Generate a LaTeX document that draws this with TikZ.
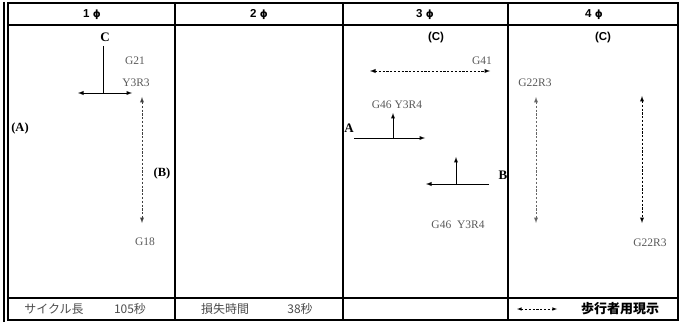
\documentclass[tikz,border=0pt]{standalone}
\usepackage{fontspec}
\setmainfont{Liberation Serif}
\newfontfamily\hdrfont{Liberation Sans}
\newfontfamily\phifont{DejaVu Sans}
\newfontfamily\jpfont{Noto Sans CJK JP}
\usetikzlibrary{calc, positioning}

\begin{document}
\begin{tikzpicture}[>=latex, x=1pt, y=-1pt,
    frame/.style={line width=2pt},
    grid/.style={line width=1.7pt},
    flow/.style={line width=0.9pt},
    ped/.style={line width=0.9pt, dash pattern=on 2.2pt off 1.6pt},
    hdr/.style={font=\hdrfont\bfseries\fontsize{11.5}{14}\selectfont},
    dirletter/.style={font=\bfseries\fontsize{13}{15}\selectfont, inner sep=0pt},
    paren/.style={font=\bfseries\fontsize{12.5}{14}\selectfont, inner sep=0pt},
    siglabel/.style={font=\fontsize{11.5}{13}\selectfont, text=black!65, inner sep=0pt},
    foot/.style={font=\jpfont\fontsize{12}{14}\selectfont, text=black!70, inner sep=0pt}]
    \useasboundingbox (0,0) rectangle (679,323);

    % 1. Khung bảng
    \draw[grid] (4,2) -- (4,322);
    \draw[frame] (8,3) rectangle (678,320);
    \draw[grid] (8,25) -- (678,25);
    \draw[grid] (8,298) -- (678,298);
    \foreach \xc in {175, 343, 508}
        \draw[grid] (\xc,3) -- (\xc,320);

    % 2. Tiêu đề các pha
    \node[hdr] (h1) at (92,15) {1 {\phifont\bfseries\fontsize{10}{12}\selectfont ϕ}};
    \node[hdr] (h2) at (259,15) {2 {\phifont\bfseries\fontsize{10}{12}\selectfont ϕ}};
    \node[hdr] (h3) at (425,15) {3 {\phifont\bfseries\fontsize{10}{12}\selectfont ϕ}};
    \node[hdr] (h4) at (594,15) {4 {\phifont\bfseries\fontsize{10}{12}\selectfont ϕ}};

    % 3. Pha 1
    \node[dirletter] (c1) at (105,37) {C};
    \draw[flow] (103,46) -- (103,93);
    \draw[flow, <->] (78,93) -- (132,93);
    \node[siglabel] (g21) at (135,61) {G21};
    \node[siglabel] (y3r3) at (136,83) {Y3R3};
    \draw[ped, <->, black!75] (142,97) -- (142,223);
    \node[paren] (a1) at (20,128) {(A)};
    \node[paren] (b1) at (162,173) {(B)};
    \node[siglabel] (g18) at (145,242) {G18};

    % 4. Pha 3
    \node[hdr] (c3) at (436,38) {(C)};
    \node[siglabel] (g41) at (482,61) {G41};
    \draw[ped, <->] (370,71) -- (490,71);
    \node[siglabel] (g46a) at (397,105) {G46 Y3R4};
    \draw[flow, ->] (393,138) -- (393,113);
    \draw[flow, ->] (354,138) -- (425,138);
    \node[dirletter] (a3) at (349,128) {A};
    \draw[flow, ->] (456,184) -- (456,157);
    \draw[flow, ->] (489,184) -- (426,184);
    \node[dirletter] (b3) at (503,175) {B};
    \node[siglabel] (g46b) at (458,225) {G46\ \ Y3R4};

    % 5. Pha 4
    \node[hdr] (c4) at (603,38) {(C)};
    \node[siglabel] (g22a) at (535,83) {G22R3};
    \draw[ped, <->, black!60] (536,97) -- (536,223);
    \draw[ped, <->] (642,96) -- (642,223);
    \node[siglabel] (g22b) at (650,243) {G22R3};

    % 6. Hàng cuối
    \node[foot] (cyc) at (54,309) {サイクル長};
    \node[foot] (cycv) at (130,309) {105秒};
    \node[foot] (loss) at (225,309) {損失時間};
    \node[foot] (lossv) at (300,309) {38秒};
    \draw[ped, <->, line width=0.6pt] (517,309) -- (557,309);
    \node[foot, font=\jpfont\bfseries\fontsize{13}{15}\selectfont, text=black] (pedlbl) at (620,309) {歩行者用現示};
\end{tikzpicture}
\end{document}
